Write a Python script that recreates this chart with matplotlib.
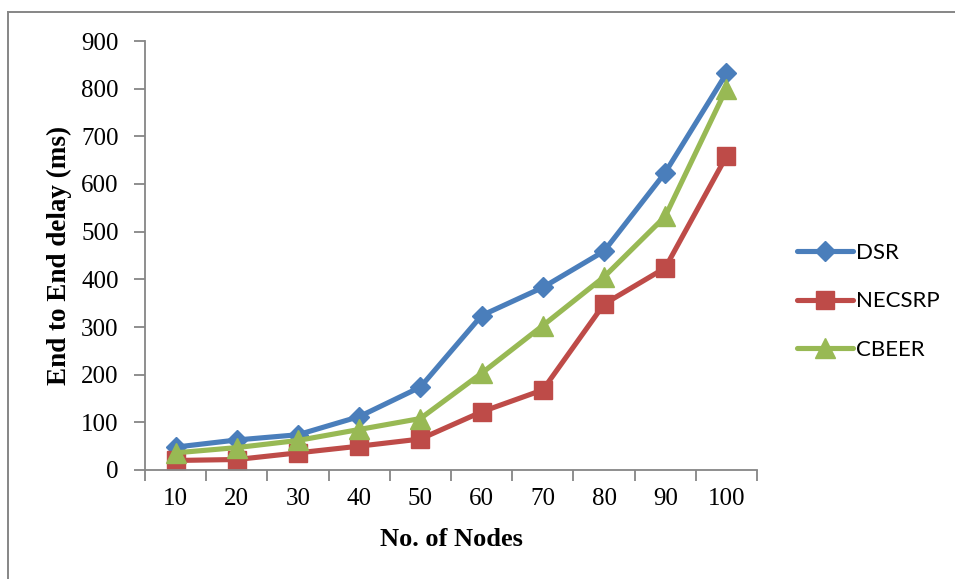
import matplotlib
matplotlib.use("Agg")
import matplotlib.pyplot as plt
from matplotlib.lines import Line2D

# Data
nodes = [10, 20, 30, 40, 50, 60, 70, 80, 90, 100]
dsr = [48, 63, 74, 112, 174, 324, 383, 459, 624, 832]
necsrp = [20, 22, 36, 50, 65, 122, 168, 348, 424, 658]
cbeer = [36, 47, 62, 85, 108, 203, 303, 405, 532, 800]
y_ticks = [0, 100, 200, 300, 400, 500, 600, 700, 800, 900]

W, H = 955, 579
fig = plt.figure(figsize=(W / 100, H / 100), dpi=100)

# Chart frame (left and top edges)
grey = "#868686"
fig.add_artist(Line2D([8 / W, 8 / W], [0, 1 - 11.5 / H], transform=fig.transFigure,
                      color=grey, lw=1.4))
fig.add_artist(Line2D([8 / W, 1], [1 - 11.5 / H, 1 - 11.5 / H], transform=fig.transFigure,
                      color=grey, lw=1.4))

left, right, top, bottom = 145, 757, 41, 470
ax = fig.add_axes([left / W, 1 - bottom / H, (right - left) / W, (bottom - top) / H])

x = list(range(1, len(nodes) + 1))
serif = "Liberation Serif"
lw = 3.7

ax.plot(x, dsr, color="#4a7ebb", lw=lw, marker="D", ms=10, label="DSR",
        solid_joinstyle="round", solid_capstyle="round")
ax.plot(x, necsrp, color="#be4b48", lw=lw, marker="s", ms=13.5, label="NECSRP",
        solid_joinstyle="round", solid_capstyle="round")
ax.plot(x, cbeer, color="#98b954", lw=lw, marker="^", ms=14.5, label="CBEER",
        solid_joinstyle="round", solid_capstyle="round")

ax.set_xlim(0.5, len(nodes) + 0.5)
ax.set_ylim(0, 900)
ax.set_yticks(y_ticks)
ax.set_yticklabels([str(v) for v in y_ticks], fontfamily=serif, fontsize=18)

# Category labels centred, tick marks between categories
ax.set_xticks([i + 0.5 for i in range(0, len(nodes) + 1)])
ax.set_xticklabels([])
ax.set_xticks(x, minor=True)
ax.set_xticklabels([str(n) for n in nodes], minor=True, fontfamily=serif, fontsize=18)
ax.tick_params(axis="x", which="major", length=8, width=1.3, color=grey, direction="out")
ax.tick_params(axis="x", which="minor", length=0, pad=13)
ax.tick_params(axis="y", length=8, width=1.3, color=grey, direction="out", pad=11)

for s in ["top", "right"]:
    ax.spines[s].set_visible(False)
for s in ["left", "bottom"]:
    ax.spines[s].set_color(grey)
    ax.spines[s].set_linewidth(1.3)

ax.set_xlabel("No. of Nodes", fontfamily=serif, fontweight="bold", fontsize=19)
ax.set_ylabel("End to End delay (ms)", fontfamily=serif, fontweight="bold", fontsize=19.5)
ax.xaxis.set_label_coords(0.5, -0.135)
ax.yaxis.set_label_coords(-0.119, 0.5)

leg = ax.legend(loc="center left", bbox_to_anchor=(1.033, 0.393), frameon=False,
                prop={"family": "Lato", "size": 16}, handlelength=2.5,
                labelspacing=1.27, handletextpad=0.15)

fig.savefig("out.png", dpi=100)
